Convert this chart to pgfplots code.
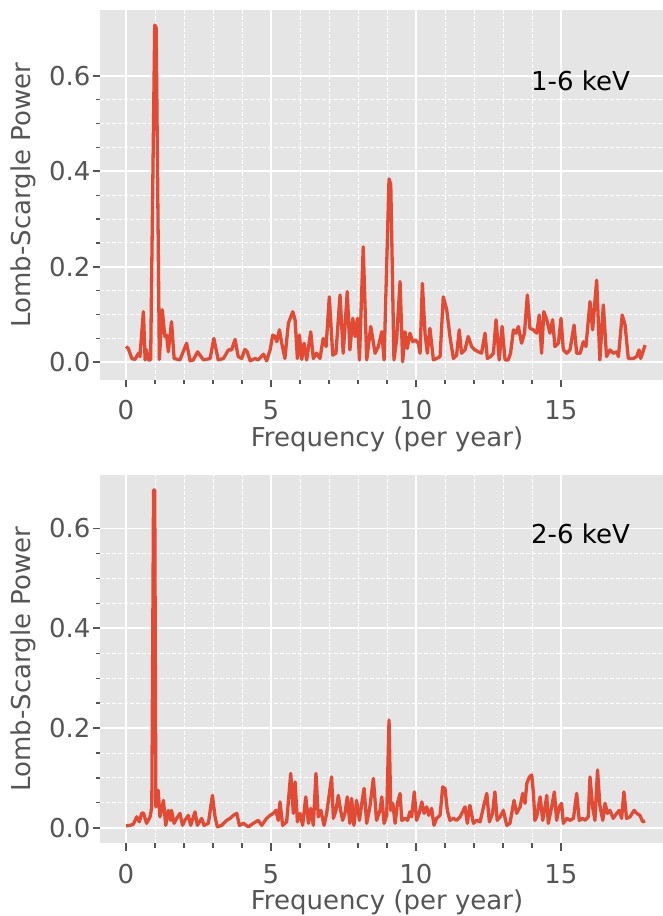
\documentclass[border=0pt]{standalone}
\usepackage{fontspec}
\setmainfont{DejaVu Sans}
\usepackage{pgfplots}
\usepackage{pgfplotstable}
\pgfplotsset{compat=1.18}

\definecolor{axbg}{HTML}{E5E5E5}
\definecolor{tickgray}{HTML}{555555}
\definecolor{ggred}{HTML}{E24A33}

% Lomb-Scargle periodogram, 1-6 keV
\pgfplotstableread{
f p
0.00 0.033
0.08 0.029
0.20 0.008
0.31 0.006
0.43 0.019
0.48 0.012
0.60 0.106
0.66 0.005
0.71 0.026
0.77 0.005
0.85 0.005
0.99 0.706
1.04 0.700
1.15 0.006
1.25 0.110
1.34 0.054
1.40 0.057
1.46 0.022
1.57 0.085
1.66 0.008
1.86 0.005
2.09 0.040
2.21 0.003
2.32 0.005
2.47 0.022
2.67 0.005
2.90 0.008
3.03 0.050
3.18 0.005
3.36 0.008
3.53 0.026
3.64 0.026
3.76 0.048
3.87 0.012
3.99 0.008
4.10 0.027
4.18 0.022
4.28 0.003
4.45 0.008
4.56 0.005
4.74 0.017
4.85 0.003
4.97 0.026
5.06 0.057
5.14 0.054
5.20 0.043
5.29 0.068
5.37 0.040
5.48 0.008
5.60 0.082
5.75 0.106
5.83 0.089
5.91 0.008
5.98 0.057
6.06 0.006
6.14 0.040
6.23 0.005
6.37 0.064
6.46 0.008
6.57 0.019
6.69 0.008
6.80 0.050
6.90 0.033
7.01 0.137
7.13 0.015
7.24 0.019
7.38 0.141
7.49 0.019
7.63 0.148
7.72 0.026
7.82 0.092
7.90 0.054
7.98 0.092
8.05 0.005
8.18 0.242
8.30 0.005
8.44 0.075
8.59 0.019
8.70 0.033
8.82 0.064
8.90 0.005
9.07 0.384
9.13 0.372
9.24 0.005
9.33 0.047
9.45 0.169
9.54 0.001
9.62 0.064
9.70 0.029
9.79 0.061
9.89 0.043
9.97 0.047
10.08 0.040
10.14 0.019
10.22 0.165
10.31 0.061
10.39 0.019
10.48 0.071
10.60 0.005
10.71 0.008
10.83 0.012
10.94 0.137
11.06 0.110
11.17 0.054
11.29 0.008
11.40 0.015
11.49 0.068
11.57 0.019
11.69 0.026
11.80 0.054
11.92 0.033
12.03 0.026
12.15 0.022
12.26 0.019
12.38 0.061
12.46 0.008
12.57 0.012
12.67 0.019
12.76 0.089
12.87 0.005
12.97 0.075
13.07 0.005
13.18 0.005
13.26 0.019
13.36 0.068
13.45 0.061
13.53 0.075
13.64 0.040
13.74 0.061
13.84 0.141
13.93 0.071
14.05 0.068
14.16 0.061
14.25 0.099
14.33 0.019
14.41 0.106
14.51 0.089
14.62 0.061
14.71 0.089
14.79 0.033
14.91 0.040
15.00 0.092
15.08 0.026
15.20 0.019
15.31 0.026
15.45 0.078
15.54 0.019
15.66 0.019
15.77 0.043
15.86 0.033
16.00 0.127
16.09 0.068
16.23 0.172
16.34 0.005
16.46 0.120
16.57 0.012
16.69 0.026
16.80 0.019
16.92 0.022
16.98 0.012
17.11 0.099
17.21 0.078
17.32 0.008
17.49 0.008
17.61 0.012
17.69 0.026
17.75 0.008
17.90 0.036
}\softband

% Lomb-Scargle periodogram, 2-6 keV
\pgfplotstableread{
f p
0.00 0.004
0.14 0.005
0.25 0.007
0.37 0.022
0.46 0.012
0.54 0.029
0.60 0.030
0.71 0.009
0.83 0.022
0.89 0.042
0.95 0.677
0.99 0.677
1.03 0.042
1.11 0.075
1.17 0.022
1.29 0.055
1.37 0.005
1.46 0.035
1.54 0.015
1.57 0.035
1.66 0.009
1.75 0.019
1.86 0.029
1.95 0.005
2.03 0.015
2.15 0.025
2.23 0.005
2.38 0.032
2.46 0.005
2.61 0.019
2.69 0.005
2.84 0.009
2.98 0.065
3.07 0.022
3.15 0.002
3.30 0.005
3.47 0.015
3.59 0.019
3.70 0.025
3.82 0.029
3.91 0.005
4.05 0.009
4.22 0.002
4.39 0.009
4.56 0.015
4.68 0.005
4.85 0.019
4.97 0.025
5.08 0.029
5.17 0.035
5.25 0.015
5.31 0.052
5.40 0.005
5.54 0.012
5.68 0.109
5.77 0.029
5.83 0.092
5.91 0.012
6.00 0.029
6.09 0.005
6.20 0.062
6.29 0.009
6.37 0.039
6.46 0.005
6.55 0.109
6.63 0.022
6.72 0.035
6.83 0.005
6.92 0.029
7.09 0.102
7.15 0.019
7.24 0.035
7.32 0.065
7.40 0.035
7.47 0.015
7.55 0.029
7.63 0.062
7.72 0.009
7.78 0.059
7.86 0.005
7.95 0.055
8.05 0.015
8.13 0.049
8.21 0.079
8.30 0.009
8.41 0.042
8.53 0.099
8.64 0.015
8.76 0.035
8.82 0.062
8.90 0.009
8.99 0.025
9.07 0.216
9.13 0.035
9.20 0.049
9.28 0.009
9.36 0.049
9.45 0.069
9.51 0.015
9.63 0.019
9.71 0.015
9.79 0.032
9.85 0.022
9.94 0.072
10.02 0.015
10.11 0.029
10.20 0.052
10.28 0.029
10.37 0.042
10.44 0.025
10.54 0.039
10.62 0.005
10.71 0.019
10.83 0.025
10.92 0.082
11.00 0.079
11.08 0.035
11.17 0.015
11.29 0.019
11.40 0.015
11.52 0.022
11.69 0.042
11.77 0.009
11.86 0.045
11.98 0.009
12.09 0.015
12.21 0.012
12.34 0.045
12.44 0.069
12.53 0.012
12.64 0.029
12.72 0.072
12.80 0.015
12.90 0.022
13.01 0.035
13.13 0.005
13.24 0.009
13.38 0.055
13.47 0.029
13.59 0.042
13.68 0.069
13.76 0.049
13.82 0.089
13.91 0.102
13.99 0.106
14.05 0.069
14.10 0.015
14.16 0.022
14.28 0.062
14.37 0.015
14.45 0.042
14.51 0.065
14.56 0.009
14.68 0.042
14.77 0.072
14.85 0.015
14.94 0.042
15.02 0.049
15.08 0.009
15.20 0.019
15.31 0.015
15.43 0.019
15.54 0.069
15.63 0.015
15.75 0.019
15.83 0.015
15.94 0.022
16.00 0.102
16.09 0.042
16.17 0.015
16.26 0.116
16.34 0.045
16.44 0.015
16.52 0.049
16.60 0.029
16.69 0.035
16.80 0.019
16.92 0.029
17.01 0.035
17.09 0.019
17.17 0.072
17.26 0.019
17.38 0.022
17.52 0.035
17.61 0.029
17.72 0.025
17.82 0.012
17.90 0.014
}\hardband

\pgfplotsset{
  ggplot/.style={
    scale only axis,
    width=574.2pt,
    xmin=-0.9, xmax=18.9,
    axis background/.style={fill=axbg},
    axis line style={draw=none},
    grid=both,
    major grid style={white, line width=1.7pt},
    minor grid style={white, line width=0.9pt, dash pattern=on 4pt off 2pt},
    xtick={0,5,10,15},
    ytick={0,0.2,0.4,0.6},
    minor x tick num=4,
    minor y tick num=3,
    tick align=outside,
    xtick pos=lower, ytick pos=lower,
    major tick length=7.3pt,
    minor tick length=4.2pt,
    every tick/.style={tickgray, line width=1.7pt},
    every minor tick/.style={tickgray, line width=1.2pt},
    /pgf/number format/assume math mode=true,
    tick label style={font=\fontsize{26}{30}\selectfont, text=tickgray},
    yticklabel style={anchor=east, inner sep=0pt, xshift=-2pt,
      /pgf/number format/.cd, fixed, fixed zerofill, precision=1},
    xticklabel style={anchor=base, inner sep=0pt, yshift=-32.5pt},
    label style={font=\fontsize{26}{30}\selectfont, text=tickgray},
    xlabel={Frequency (per year)},
    ylabel={Lomb-Scargle Power},
    xlabel style={at={(axis description cs:0.5,0)}, anchor=base, yshift=-66.5pt},
    ylabel style={at={(axis description cs:0,0.5)}, anchor=center, yshift=77pt},
  },
  ggline/.style={ggred, line width=3.3pt, line join=round},
}

\begin{document}
\begin{tikzpicture}
\useasboundingbox (0,0) rectangle (662pt,916pt);

\begin{axis}[ggplot, at={(99.9pt,906pt)}, anchor=north west,
  height=370pt, ymin=-0.037, ymax=0.7376]
  \addplot[ggline] table[x=f, y=p] {\softband};
  \node[anchor=base west, font=\fontsize{26}{30}\selectfont, text=black]
    at (axis cs:13.85,0.57) {1-6 keV};
\end{axis}

\begin{axis}[ggplot, at={(99.9pt,441pt)}, anchor=north west,
  height=368.3pt, ymin=-0.031, ymax=0.707]
  \addplot[ggline] table[x=f, y=p] {\hardband};
  \node[anchor=base west, font=\fontsize{26}{30}\selectfont, text=black]
    at (axis cs:13.85,0.57) {2-6 keV};
\end{axis}
\end{tikzpicture}
\end{document}
